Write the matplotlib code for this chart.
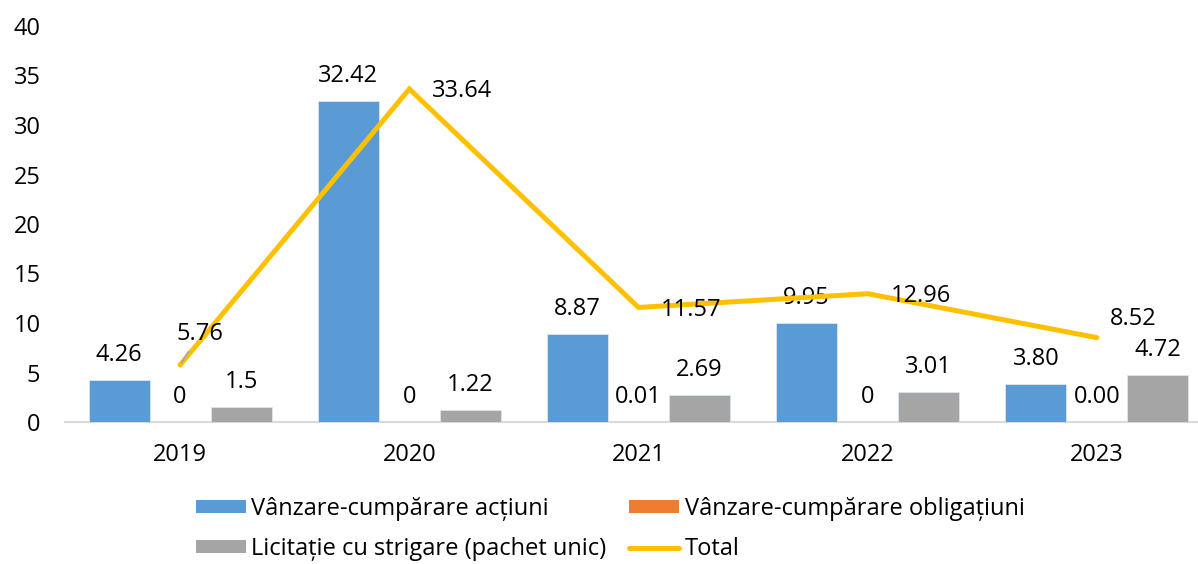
import matplotlib

matplotlib.use("Agg")
import matplotlib.pyplot as plt
import numpy as np
from matplotlib.patches import Patch
from matplotlib.lines import Line2D

plt.rcParams["font.family"] = ["Open Sans", "DejaVu Sans"]
plt.rcParams["font.size"] = 17

years = ["2019", "2020", "2021", "2022", "2023"]
actiuni = [4.26, 32.42, 8.87, 9.95, 3.80]
obligatiuni = [0, 0, 0.01, 0, 0.00]
licitatie = [1.5, 1.22, 2.69, 3.01, 4.72]
total = [5.76, 33.64, 11.57, 12.96, 8.52]

actiuni_labels = ["4.26", "32.42", "8.87", "9.95", "3.80"]
obligatiuni_labels = ["0", "0", "0.01", "0", "0.00"]
licitatie_labels = ["1.5", "1.22", "2.69", "3.01", "4.72"]
total_labels = ["5.76", "33.64", "11.57", "12.96", "8.52"]

series_names = [
    "Vânzare-cumpărare acțiuni",
    "Vânzare-cumpărare obligațiuni",
    "Licitație cu strigare (pachet unic)",
    "Total",
]
colors = ["#5B9BD5", "#ED7D31", "#A5A5A5", "#FFC000"]

# label offsets for the Total line, in pixels (dx, dy of digit centre)
total_offsets = [(-4, 33), (23, 0), (22, 0), (23, 0), (13, 21)]

fig = plt.figure(figsize=(11.98, 5.64), dpi=100)
ax = fig.add_axes([65.5 / 1198, 1 - 422 / 564, 1146 / 1198, 396 / 564])

x = np.arange(len(years))
width = 0.266
bar_sets = [
    (actiuni, actiuni_labels, -width),
    (obligatiuni, obligatiuni_labels, 0.0),
    (licitatie, licitatie_labels, width),
]
for (vals, labels, off), color in zip(bar_sets, colors[:3]):
    bars = ax.bar(x + off, vals, width, color=color, edgecolor="#dbe6f2",
                  linewidth=0.6, zorder=2)
    for b, lab in zip(bars, labels):
        ax.annotate(lab, (b.get_x() + b.get_width() / 2, b.get_height()),
                    xytext=(0, 19), textcoords="offset pixels",
                    ha="center", va="baseline")

ax.plot(x, total, color=colors[3], linewidth=3.6, solid_capstyle="round",
        solid_joinstyle="miter", zorder=3)
for i, (xi, v, lab) in enumerate(zip(x, total, total_labels)):
    dx, dy = total_offsets[i]
    extra = {}
    if i == 0:
        extra["arrowprops"] = dict(arrowstyle="-", color="#A5A5A5", lw=1.2,
                                   shrinkA=2, shrinkB=2)
    ax.annotate(lab, (xi, v), xytext=(dx, dy - 8.5), textcoords="offset pixels",
                ha="left", va="baseline", zorder=4, **extra)

ax.set_xlim(-0.5, len(years) - 0.5)
ax.set_ylim(0, 40)
ax.set_yticks(np.arange(0, 41, 5))
ax.set_xticks(x)
ax.set_xticklabels(years)
ax.tick_params(axis="both", length=0, labelsize=17)
ax.tick_params(axis="y", pad=18)
ax.tick_params(axis="x", pad=15)
for side in ["left", "right", "top"]:
    ax.spines[side].set_visible(False)
ax.spines["bottom"].set_color("#D9D9D9")
ax.spines["bottom"].set_linewidth(1.5)
ax.spines["bottom"].set_zorder(1)

handles = [
    Patch(facecolor=colors[0], label=series_names[0]),
    Patch(facecolor=colors[2], label=series_names[2]),
    Patch(facecolor=colors[1], label=series_names[1]),
    Line2D([], [], color=colors[3], lw=3.6, solid_capstyle="round", label=series_names[3]),
]
fig.legend(handles=handles, ncol=2, loc="upper left",
           bbox_to_anchor=(196 / 1198, 1 - 497 / 564), frameon=False,
           borderpad=0, borderaxespad=0, handlelength=2.1, handleheight=0.5,
           handletextpad=0.25, columnspacing=0.95, labelspacing=0.68)

fig.savefig("out.png", dpi=100)
